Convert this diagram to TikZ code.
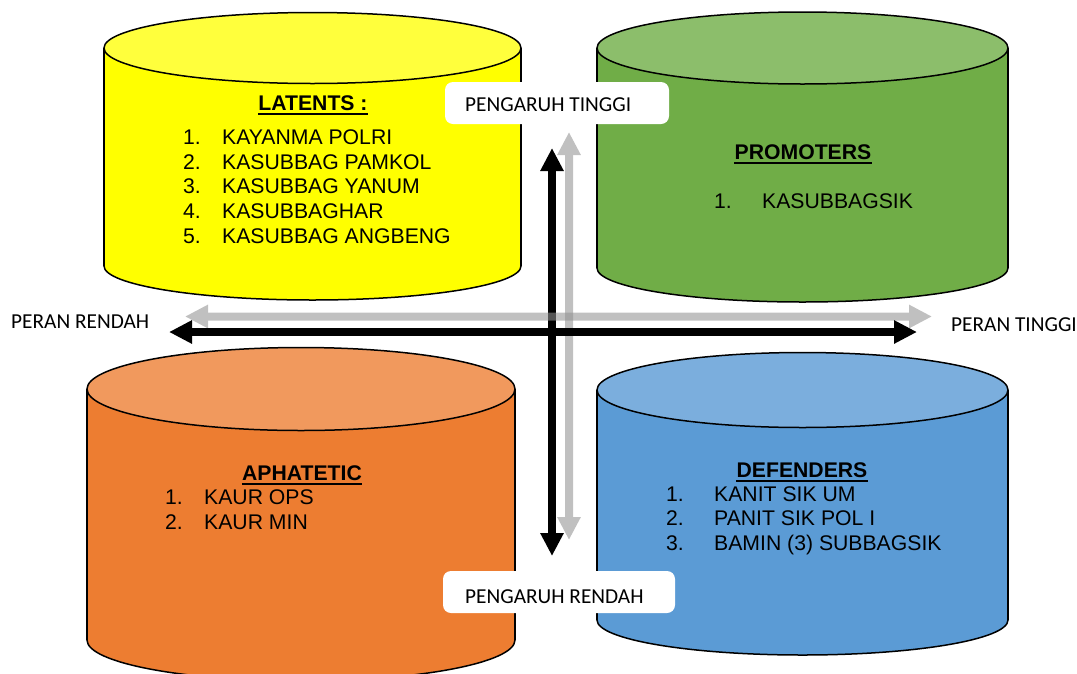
\documentclass[tikz,border=0pt]{standalone}
\usepackage{fontspec}
\setmainfont{Liberation Sans}
\newfontfamily\lblfont{Carlito}
\usetikzlibrary{arrows.meta}
\definecolor{ybody}{HTML}{FFFF00}
\definecolor{ytop}{HTML}{FFFF3C}
\definecolor{gbody}{HTML}{70AD47}
\definecolor{gtop}{HTML}{8CBE6B}
\definecolor{obody}{HTML}{ED7D31}
\definecolor{otop}{HTML}{F1995D}
\definecolor{bbody}{HTML}{5B9BD5}
\definecolor{btop}{HTML}{7BAEDD}
\definecolor{axgray}{RGB}{146,146,146}
\newcommand\mycyl[8]{%
  \fill[#7] (#1,#3) rectangle (#2,#4);
  \fill[#7] ({(#1+#2)/2},#4) ellipse[x radius={(#2-#1)/2}, y radius=#6];
  \begin{scope}
    \clip (#1-5,#4) rectangle (#2+5,#4+#6+5);
    \draw[cylline] ({(#1+#2)/2},#4) ellipse[x radius={(#2-#1)/2}, y radius=#6];
  \end{scope}
  \draw[cylline] (#1,#3) -- (#1,#4) (#2,#3) -- (#2,#4);
  \filldraw[cylline, fill=#8] ({(#1+#2)/2},#3) ellipse[x radius={(#2-#1)/2}, y radius=#5];
}
\tikzset{
  cylline/.style={draw=black, line width=1.5pt},
  txt/.style={inner sep=0pt, anchor=base west, font=\fontsize{21.2}{25}\selectfont},
  ttl/.style={inner sep=0pt, anchor=base, font=\fontsize{21.2}{25}\selectfont\bfseries},
  lbl/.style={inner sep=0pt, anchor=base west, font=\lblfont\fontsize{21.3}{24}\selectfont},
  lblbox/.style={fill=white, rounded corners=8pt},
  axboth/.style={{Triangle[width=22pt,length=23pt]}-{Triangle[width=22pt,length=23pt]}, line width=8pt},
  ulinestyle/.style={line width=2pt},
}
\begin{document}
\begin{tikzpicture}[x=1pt,y=-1pt]
\useasboundingbox (0,0) rectangle (1077,673);
% cylinders
\mycyl{104}{521}{48}{266}{35.5}{34}{ybody}{ytop}
\mycyl{597}{1008}{48}{268}{36}{34}{gbody}{gtop}
\mycyl{87}{515}{389}{640}{41.5}{41}{obody}{otop}
\mycyl{597}{1008}{390}{620}{37.5}{35}{bbody}{btop}
% axis coordinates
\coordinate (bvT) at (552,148);
\coordinate (bvB) at (552,556);
\coordinate (gvT) at (569,132);
\coordinate (gvB) at (569,540);
\coordinate (bhL) at (169,332);
\coordinate (bhR) at (917,332);
\coordinate (ghL) at (185,316.5);
\coordinate (ghR) at (932,316.5);
% axes
\begin{scope}[transparency group, opacity=0.58]
  \draw[axboth, draw=axgray, fill=axgray] (gvT) -- (gvB);
\end{scope}
\draw[axboth, draw=black, fill=black] (bvT) -- (bvB);
\begin{scope}[transparency group, opacity=0.58]
  \draw[axboth, draw=axgray, fill=axgray] (ghL) -- (ghR);
\end{scope}
\draw[axboth, draw=black, fill=black] (bhL) -- (bhR);
% labels
\fill[lblbox] (445,82) rectangle (669,124);
\node[lbl] (pt) at (465,111.5) {PENGARUH TINGGI};
\fill[lblbox] (443,571) rectangle (675,613);
\node[lbl] (pr) at (465,603) {PENGARUH RENDAH};
\node[lbl] (rr) at (11,328) {PERAN RENDAH};
\node[lbl] (rt) at (951,331) {PERAN TINGGI};
% yellow
\node[ttl] (t1) at (313,110.5) {LATENTS :};
\draw[ulinestyle] ([yshift=-3.5pt]t1.base west) -- ([yshift=-3.5pt]t1.base east);
\node[txt] (y1n) at (183,144.5) {1.};
\node[txt] (y1) at (222,144.5) {KAYANMA POLRI};
\node[txt] (y2n) at (183,169) {2.};
\node[txt] (y2) at (222,169) {KASUBBAG PAMKOL};
\node[txt] (y3n) at (183,193.5) {3.};
\node[txt] (y3) at (222,193.5) {KASUBBAG YANUM};
\node[txt] (y4n) at (183,218) {4.};
\node[txt] (y4) at (222,218) {KASUBBAGHAR};
\node[txt] (y5n) at (183,243) {5.};
\node[txt] (y5) at (222,243) {KASUBBAG ANGBENG};
% green
\node[ttl] (t2) at (803,159.5) {PROMOTERS};
\draw[ulinestyle] ([yshift=-3.5pt]t2.base west) -- ([yshift=-3.5pt]t2.base east);
\node[txt] (g1n) at (714,208.5) {1.};
\node[txt] (g1) at (762,208.5) {KASUBBAGSIK};
% orange
\node[ttl] (t3) at (302,480.5) {APHATETIC};
\draw[ulinestyle] ([yshift=-3.5pt]t3.base west) -- ([yshift=-3.5pt]t3.base east);
\node[txt] (o1n) at (165,504.5) {1.};
\node[txt] (o1) at (204,504.5) {KAUR OPS};
\node[txt] (o2n) at (165,529.5) {2.};
\node[txt] (o2) at (204,529.5) {KAUR MIN};
% blue
\node[ttl] (t4) at (802,477.5) {DEFENDERS};
\draw[ulinestyle] ([yshift=-3.5pt]t4.base west) -- ([yshift=-3.5pt]t4.base east);
\node[txt] (b1n) at (666,501.5) {1.};
\node[txt] (b1) at (714,501.5) {KANIT SIK UM};
\node[txt] (b2n) at (666,525.5) {2.};
\node[txt] (b2) at (714,525.5) {PANIT SIK POL I};
\node[txt] (b3n) at (666,550.5) {3.};
\node[txt] (b3) at (714,550.5) {BAMIN (3) SUBBAGSIK};
\end{tikzpicture}
\end{document}
